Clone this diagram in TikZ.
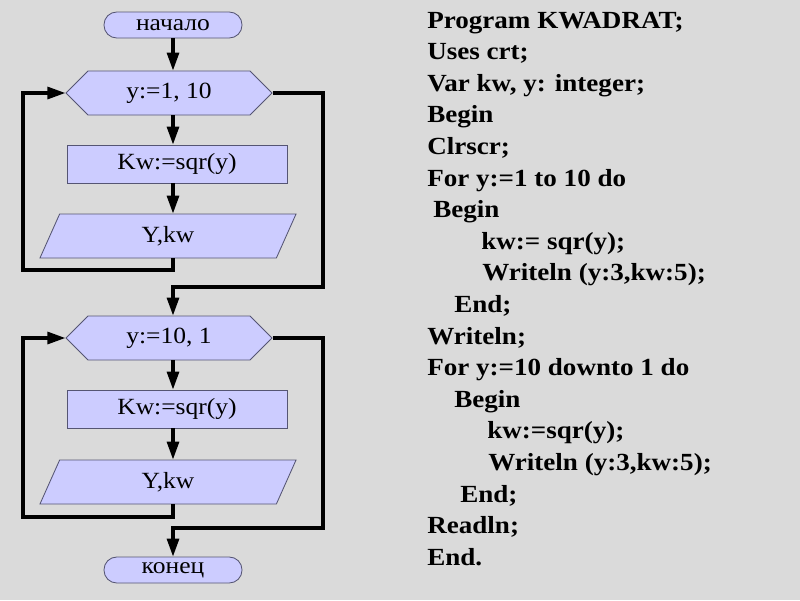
\documentclass[tikz,border=0pt]{standalone}
\usepackage{fontspec}
\setmainfont[FakeStretch=1.1]{Liberation Serif}
\usetikzlibrary{arrows.meta,shapes.geometric,shapes.symbols}

\definecolor{slidebg}{RGB}{218,218,218}
\definecolor{blockfill}{RGB}{204,204,255}
\definecolor{blockline}{RGB}{85,85,115}

\tikzset{
  block/.style={draw=blockline, fill=blockfill, line width=0.6pt, inner sep=0pt,
    font=\fontsize{16.5}{18}\selectfont},
  term/.style={block, rectangle, rounded corners=0.32cm, minimum width=3.45cm, minimum height=0.65cm},
  loophex/.style={block, signal, signal to=east and west, signal pointer angle=90,
    minimum width=5.15cm, minimum height=1.1cm},
  proc/.style={block, rectangle, minimum width=5.5cm, minimum height=0.95cm},
  io/.style={block, trapezium, trapezium left angle=45, trapezium right angle=135,
    trapezium stretches body, minimum width=6.4cm, minimum height=1.1cm},
  flow/.style={line width=2.2pt, -{Triangle[length=0.45cm, width=0.3cm]}},
  codeline/.style={anchor=base west, inner sep=0pt, font=\fontsize{17.5}{21}\selectfont\bfseries}
}

\begin{document}
\begin{tikzpicture}[x=0.025cm, y=-0.025cm]
        % background
        \fill[slidebg] (0,0) rectangle (800,600);

        % flowchart blocks
        \node[term] (start) at (173,25) {начало};
        \node[loophex] (hex1) at (169,93) {y:=1, 10};
        \node[proc] (rect1) at (177,164) {Kw:=sqr(y)};
        \node[io] (out1) at (168,236) {Y,kw};
        \node[loophex] (hex2) at (169,338) {y:=10, 1};
        \node[proc] (rect2) at (177,409) {Kw:=sqr(y)};
        \node[io] (out2) at (168,482) {Y,kw};
        \node[term] (stop) at (173,570) {конец};

        % loop corners
        \coordinate (loop1) at (23,270);
        \coordinate (exit1) at (323,287);
        \coordinate (loop2) at (23,517);
        \coordinate (exit2) at (323,528);

        %% connection
        % straight down
        \draw[flow] (start.south) -- (start.south |- hex1.north);
        \draw[flow] (hex1.south -| start) -- (rect1.north -| start);
        \draw[flow] (rect1.south -| start) -- (out1.north -| start);
        \draw[flow] (hex2.south -| start) -- (rect2.north -| start);
        \draw[flow] (rect2.south -| start) -- (out2.north -| start);
        % back to the loop head
        \draw[flow] (out1.south -| start) |- (loop1) |- (hex1.west);
        \draw[flow] (out2.south -| start) |- (loop2) |- (hex2.west);
        % loop exits
        \draw[flow] (hex1.east) -| (exit1) -| (hex2.north -| start);
        \draw[flow] (hex2.east) -| (exit2) -| (stop.north);

        % program text
        \foreach \cx/\ctxt [count=\ci from 0] in {
            427/{Program KWADRAT;}, 427/{Uses crt;}, 427/{Var kw, y: integer;},
            427/{Begin}, 427/{Clrscr;}, 427/{For y:=1 to 10 do}, 433/{Begin},
            481/{kw:= sqr(y);}, 482/{Writeln (y:3,kw:5);}, 454/{End;},
            427/{Writeln;}, 427/{For y:=10 downto 1 do}, 454/{Begin},
            487/{kw:=sqr(y);}, 488/{Writeln (y:3,kw:5);}, 460/{End;},
            427/{Readln;}, 427/{End.}} {
            \node[codeline] (code\ci) at (\cx, {28+31.6*\ci}) {\ctxt};
        }
    \end{tikzpicture}
\end{document}
